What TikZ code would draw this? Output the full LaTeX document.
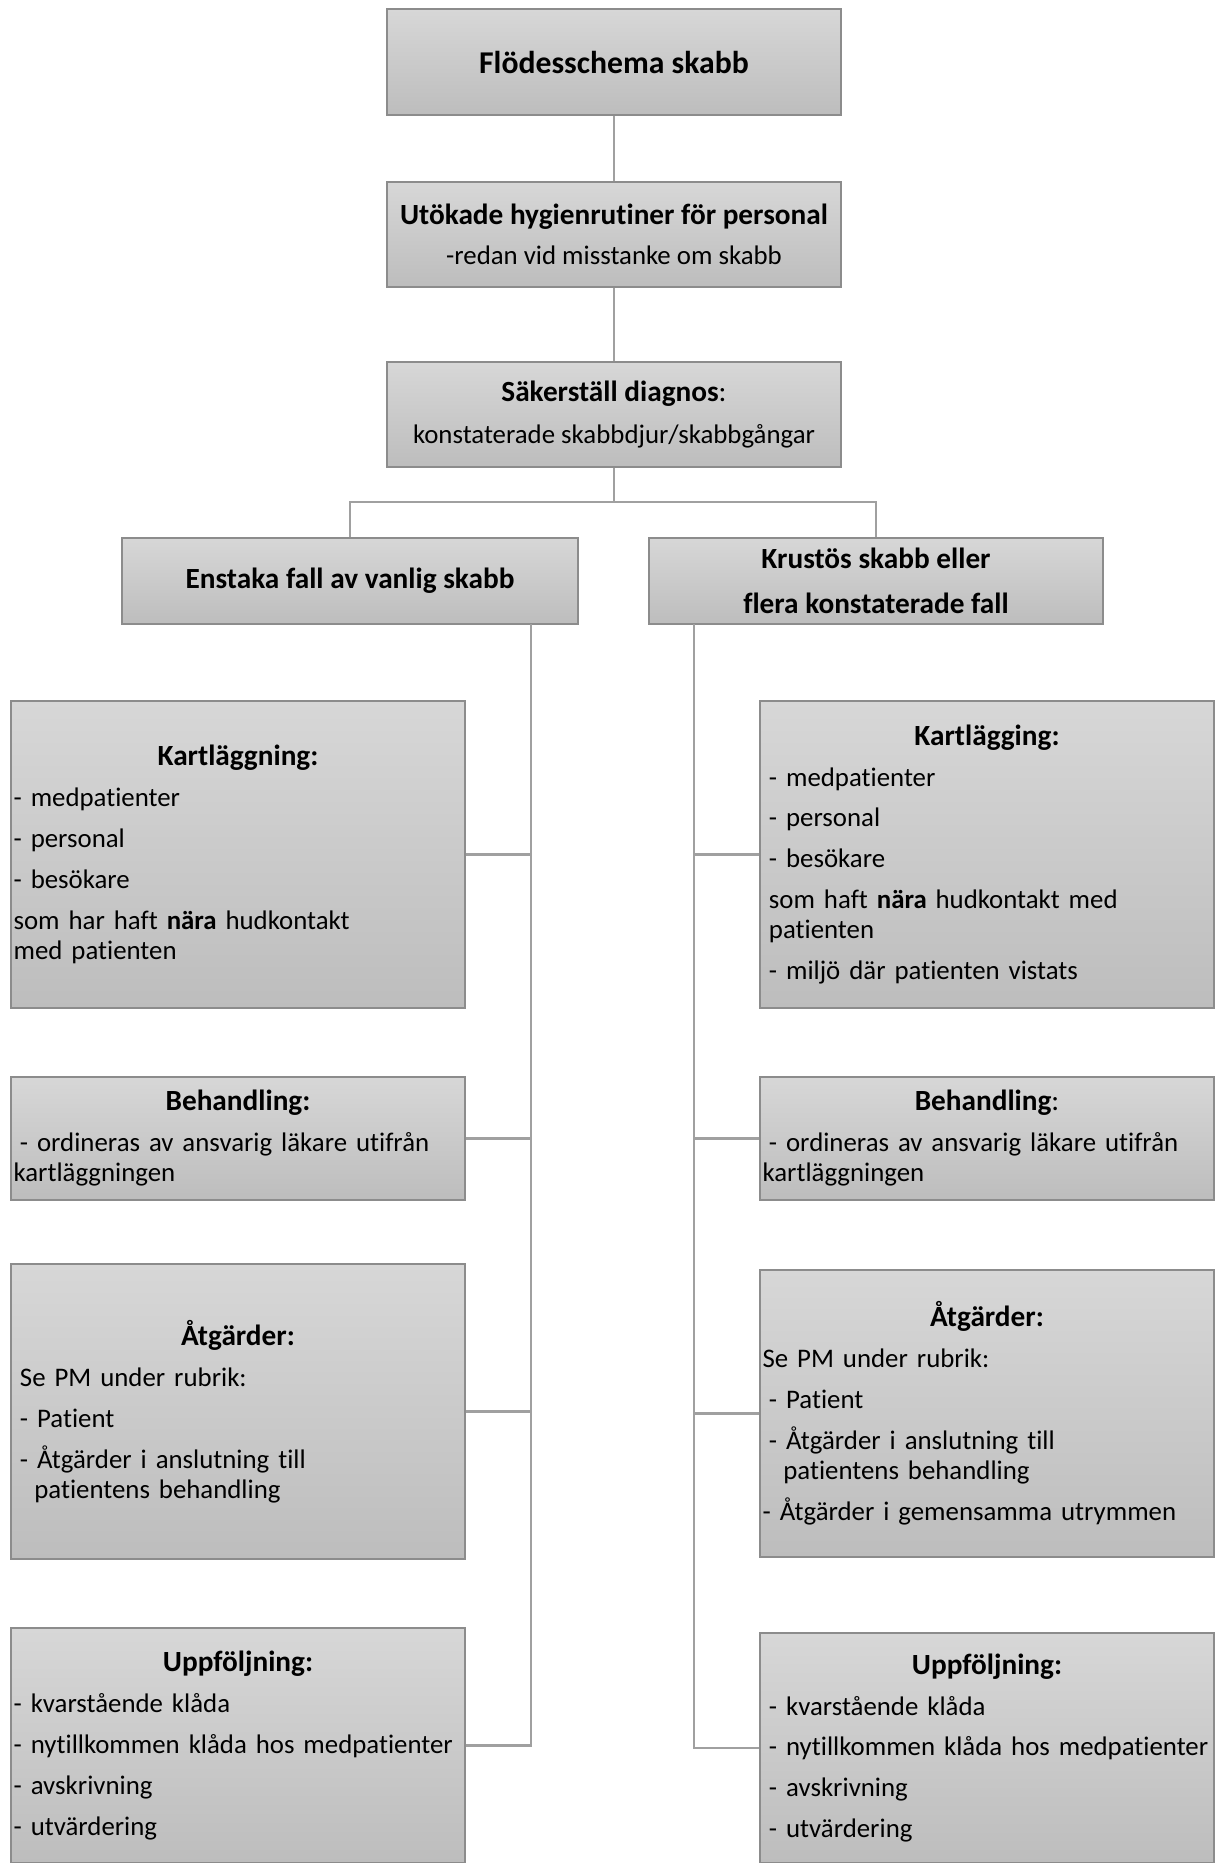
\documentclass[tikz,border=0pt]{standalone}
\usepackage{fontspec}
\setmainfont{Carlito}[Ligatures={NoCommon,NoContextual}]
\usetikzlibrary{positioning}
\definecolor{ljusgra}{HTML}{D7D7D7}
\definecolor{morkgra}{HTML}{BDBDBD}
\definecolor{kantgra}{HTML}{8C8C8C}
\definecolor{linjegra}{HTML}{A0A0A0}
\newcommand{\pxu}{0.41pt}
\newcommand{\rubrik}[1]{{\centering\fontsize{12}{14.4}\selectfont\bfseries #1\par}}
\newcommand{\indrag}{\hspace*{2.6pt}}

\begin{document}
\begin{tikzpicture}[
        x=\pxu, y=-\pxu,
        ruta/.style={draw=kantgra, line width=0.8pt, top color=ljusgra, bottom color=morkgra, inner sep=1pt},
        toppruta/.style={ruta, align=center, minimum width=454*\pxu, minimum height=#1*\pxu, font=\fontsize{12}{14.4}\selectfont\bfseries},
        toppruta/.default=105,
        listruta/.style={ruta, inner xsep=1pt, minimum width=452*\pxu, minimum height=#1*\pxu, text width=184pt, execute at begin node=\raggedright, font=\fontsize{11}{12.3}\selectfont\setlength{\parskip}{4.5pt}},
        linje/.style={draw=linjegra, line width=1pt}
    ]
        \useasboundingbox (0,0) rectangle (1215,1863);

        \node[toppruta=106, font=\fontsize{13}{15.6}\selectfont\bfseries] (titel) at (614,62) {Flödesschema skabb};
        \node[toppruta] (hygien) at (614,234.5) {Utökade hygienrutiner för personal\\[2pt]{\fontsize{11}{13}\selectfont\mdseries -redan vid misstanke om skabb}};
        \node[toppruta] (diagnos) at (614,414.5) {Säkerställ diagnos{\mdseries :}\\[3pt]{\fontsize{11}{13}\selectfont\mdseries konstaterade skabbdjur/skabbgångar}};

        \node[toppruta=86, minimum width=456*\pxu] (enstaka) at (350,581) {Enstaka fall av vanlig skabb};
        \node[toppruta=86] (krustos) at (876,581) {Krustös skabb eller\\[4pt]flera konstaterade fall};

        % vänster gren
        \node[listruta=307] (vKart) at (238,854.5) {\rubrik{Kartläggning:}
            - medpatienter\par
            - personal\par
            - besökare\par
            som har haft \textbf{nära} hudkontakt\\med patienten};
        \node[listruta=123] (vBeh) at (238,1138.5) {\rubrik{Behandling:}
            \indrag- ordineras av ansvarig läkare utifrån\\kartläggningen};
        \node[listruta=295] (vAtg) at (238,1411.5) {\rubrik{Åtgärder:}
            \indrag Se PM under rubrik:\par
            \indrag- Patient\par
            \indrag- Åtgärder i anslutning till\\\hspace*{8.5pt}patientens behandling};
        \node[listruta=235] (vUpp) at (238,1745.5) {\rubrik{Uppföljning:}
            - kvarstående klåda\par
            - nytillkommen klåda hos medpatienter\par
            - avskrivning\par
            - utvärdering};

        % höger gren
        \node[listruta=307] (hKart) at (987,854.5) {\rubrik{Kartlägging:}
            \indrag- medpatienter\par
            \indrag- personal\par
            \indrag- besökare\par
            \indrag som haft \textbf{nära} hudkontakt med\\\indrag patienten\par
            \indrag- miljö där patienten vistats};
        \node[listruta=123] (hBeh) at (987,1138.5) {\rubrik{Behandling{\mdseries :}}
            \indrag- ordineras av ansvarig läkare utifrån\\kartläggningen};
        \node[listruta=287] (hAtg) at (987,1413.5) {\rubrik{Åtgärder:}
            Se PM under rubrik:\par
            \indrag- Patient\par
            \indrag- Åtgärder i anslutning till\\\hspace*{8.5pt}patientens behandling\par
            - Åtgärder i gemensamma utrymmen};
        \node[listruta=230] (hUpp) at (987,1748) {\rubrik{Uppföljning:}
            \indrag- kvarstående klåda\par
            \indrag- nytillkommen klåda hos medpatienter\par
            \indrag- avskrivning\par
            \indrag- utvärdering};

        \coordinate (gren) at (614,502);
        \coordinate (vstam) at (531,624);
        \coordinate (hstam) at (694,624);

        \draw[linje] (titel) -- (hygien);
        \draw[linje] (hygien) -- (diagnos);
        \draw[linje] (diagnos) -- (gren);
        \draw[linje] (enstaka) |- (gren) -| (krustos);

        \draw[linje] (vstam) |- (vUpp.east);
        \draw[linje] (vKart.east) -- (vKart.east -| vstam);
        \draw[linje] (vBeh.east) -- (vBeh.east -| vstam);
        \draw[linje] (vAtg.east) -- (vAtg.east -| vstam);

        \draw[linje] (hstam) |- (hUpp.west);
        \draw[linje] (hKart.west) -- (hKart.west -| hstam);
        \draw[linje] (hBeh.west) -- (hBeh.west -| hstam);
        \draw[linje] (hAtg.west) -- (hAtg.west -| hstam);
    \end{tikzpicture}
\end{document}
